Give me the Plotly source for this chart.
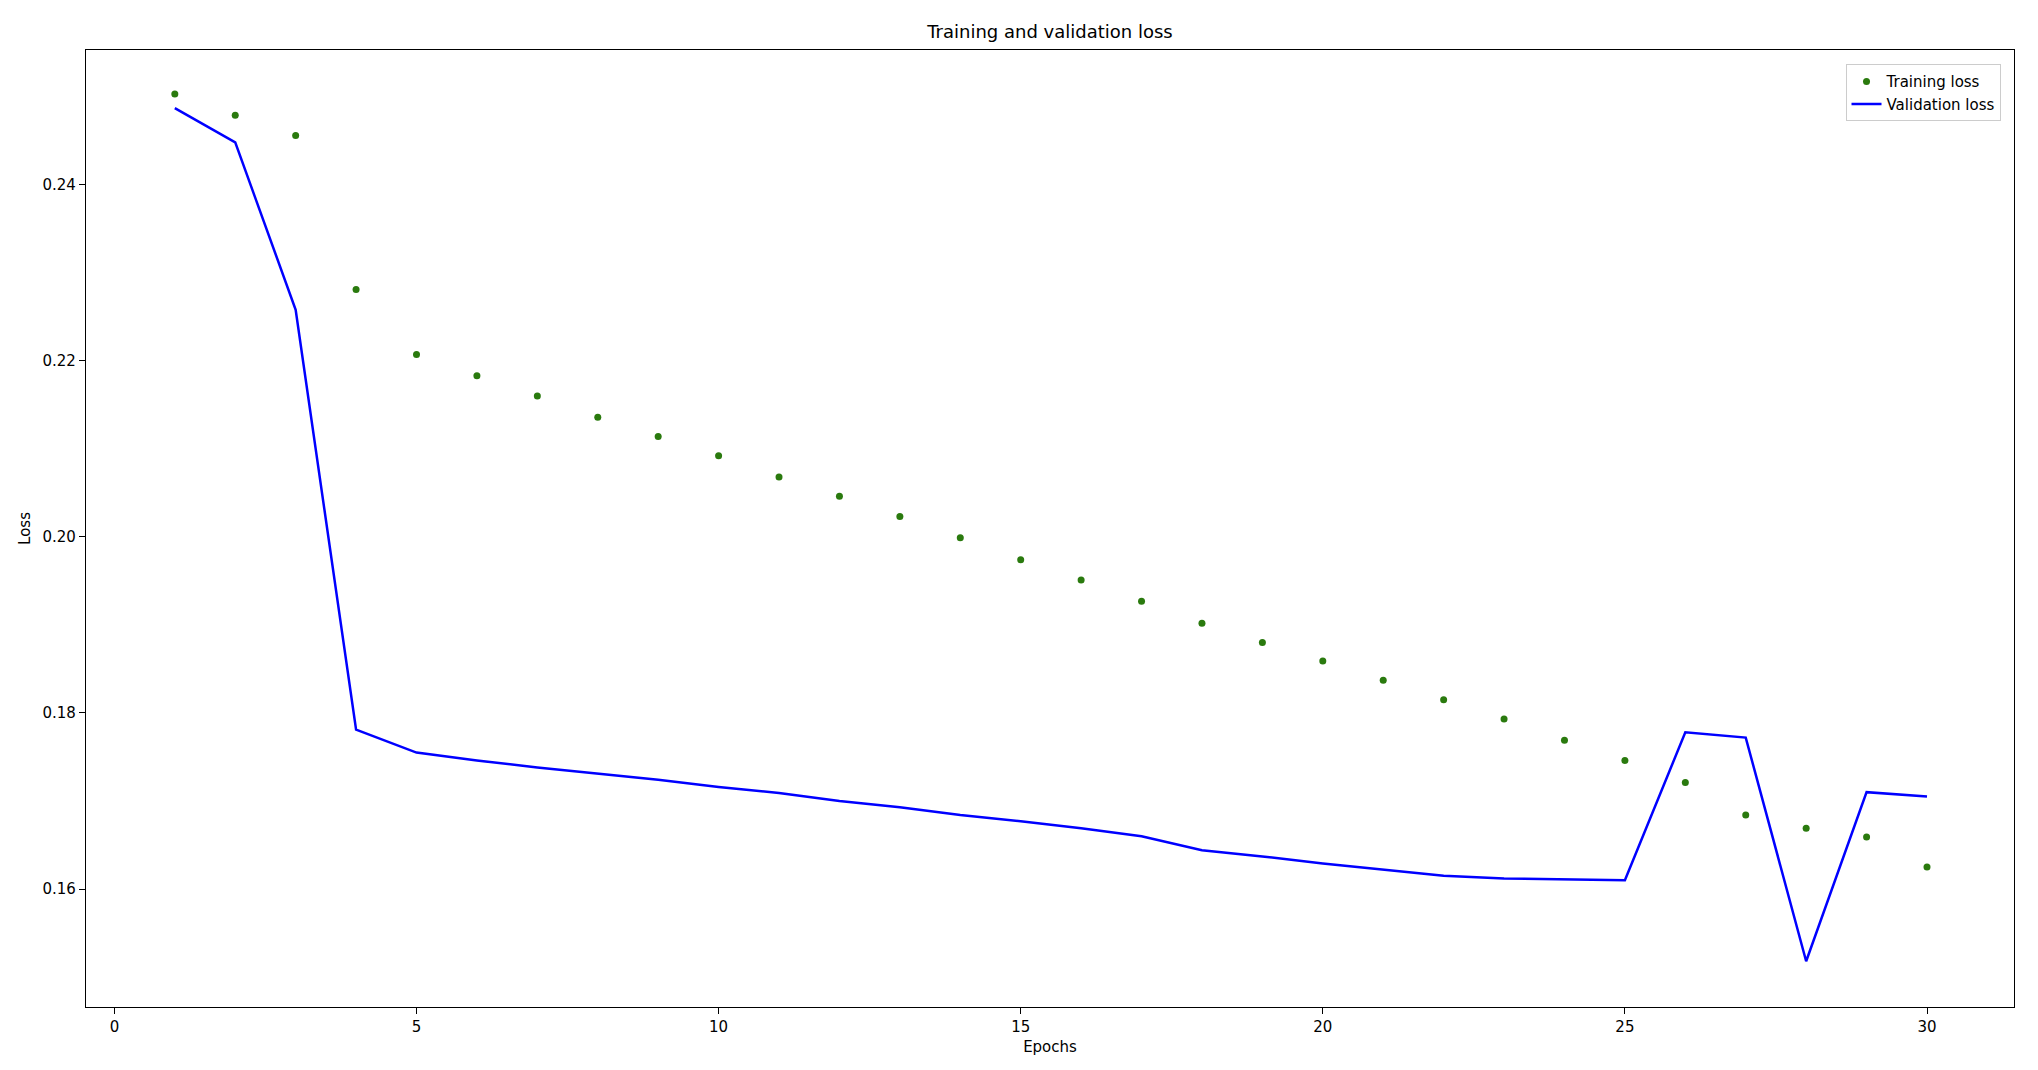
import plotly.graph_objects as go

epochs = list(range(1, 31))
train_loss = [0.2503, 0.2479, 0.2456, 0.2281, 0.2207, 0.2183, 0.2160, 0.2136, 0.2114, 0.2092,
              0.2068, 0.2046, 0.2023, 0.1999, 0.1974, 0.1951, 0.1927, 0.1902, 0.1880, 0.1859,
              0.1837, 0.1815, 0.1793, 0.1769, 0.1746, 0.1721, 0.1684, 0.1669, 0.1659, 0.1625]
val_loss = [0.2487, 0.2448, 0.2258, 0.1781, 0.1755, 0.1746, 0.1738, 0.1731, 0.1724, 0.1716,
            0.1709, 0.1700, 0.1693, 0.1684, 0.1677, 0.1669, 0.1660, 0.1644, 0.1637, 0.1629,
            0.1622, 0.1615, 0.1612, 0.1611, 0.1610, 0.1778, 0.1772, 0.1518, 0.1710, 0.1705]

fig = go.Figure()
fig.add_trace(go.Scatter(x=epochs, y=train_loss, mode="markers", name="Training loss",
                         marker=dict(color="#2a7a0e", size=7)))
fig.add_trace(go.Scatter(x=epochs, y=val_loss, mode="lines", name="Validation loss",
                         line=dict(color="#0000ff", width=2.5)))

axis = dict(showline=True, mirror=True, linecolor="black", linewidth=1.3, ticks="outside",
            ticklen=6, tickcolor="black", showgrid=False, zeroline=False,
            tickfont=dict(size=15, color="black"))
fig.update_layout(
    width=2038, height=1070, plot_bgcolor="white", paper_bgcolor="white",
    font=dict(family="DejaVu Sans", color="black"),
    title=dict(text="Training and validation loss", x=0.5, xanchor="center", xref="paper",
               yref="paper", y=1, yanchor="bottom", pad=dict(b=12), font=dict(size=18)),
    margin=dict(l=78, r=32, t=42, b=71),
    xaxis=dict(axis, range=[-0.47, 31.44], tickvals=[0, 5, 10, 15, 20, 25, 30],
               title=dict(text="Epochs", font=dict(size=15), standoff=6)),
    yaxis=dict(axis, range=[0.1466, 0.2553], tickvals=[0.16, 0.18, 0.20, 0.22, 0.24],
               tickformat=".2f", title=dict(text="Loss", font=dict(size=15), standoff=8)),
    legend=dict(x=0.993, y=0.985, xanchor="right", yanchor="top", bordercolor="#cccccc",
                borderwidth=1, bgcolor="white", font=dict(size=15)),
)
fig.write_html("out.html")
